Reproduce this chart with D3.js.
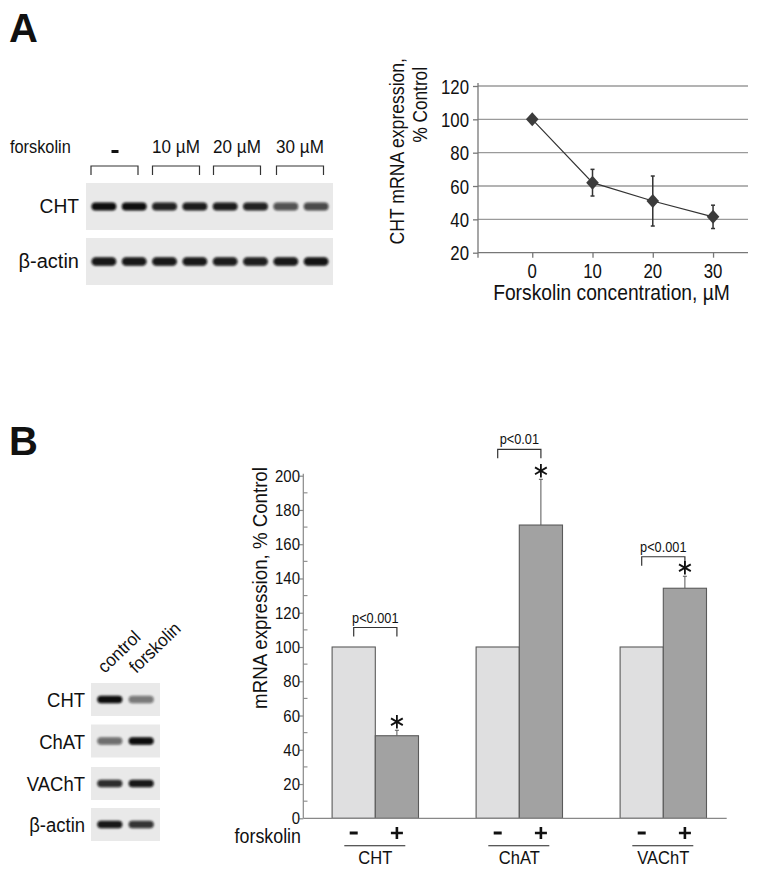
<!DOCTYPE html>
<html><head><meta charset="utf-8">
<script src="https://cdn.jsdelivr.net/npm/d3@7"></script>
<style>body{margin:0;background:#fff}svg text{font-family:'Liberation Sans',Arial,sans-serif;fill:#111}</style>
</head><body>
<svg id="fig" width="762" height="878"></svg>
<script>
// ---------- data ----------
const doseConc = [0, 10, 20, 30];
const doseMean = [100, 62, 51, 41.5];
const doseErr = [0, 8, 15, 7];
const doseYTicks = [20, 40, 60, 80, 100, 120];
const gelALanes = ["-", "10 µM", "20 µM", "30 µM"];
const gelAChtBands = [1, 1, 0.9, 0.93, 0.93, 0.9, 0.68, 0.72];
const gelAActinBands = [0.95, 0.95, 0.95, 0.95, 0.93, 0.92, 0.95, 0.97];

const genes = ["CHT", "ChAT", "VAChT"];
const conditions = ["-", "+"];
const controlVals = [100, 100, 100];
const forskolinVals = [48.2, 171.2, 134.3];
const forskolinErr = [3.2, 26.7, 7];
const pLabels = ["p<0.001", "p<0.01", "p<0.001"];
const barYTicks = [0, 20, 40, 60, 80, 100, 120, 140, 160, 180, 200];
const gelBRows = ["CHT", "ChAT", "VAChT", "β-actin"];
const gelBBands = [[1, 0.5], [0.55, 1], [0.85, 0.95], [0.95, 0.82]];
const gelBCols = ["control", "forskolin"];

const svg = d3.select("#fig");
const defs = svg.append("defs");
defs.append("filter").attr("id", "blur").attr("x", "-20%").attr("y", "-60%").attr("width", "140%").attr("height", "220%")
  .append("feGaussianBlur").attr("stdDeviation", 1);

// text helper: horizontal scale sx gives the condensed face of the original
function ntext(g, x, y, str, size, sx, opts = {}) {
  const rot = opts.rot || 0;
  return g.append("text")
    .attr("transform", `translate(${x},${y}) rotate(${rot}) scale(${sx},1)`)
    .attr("text-anchor", opts.anchor || "start")
    .attr("font-size", size)
    .style("font-size", size + "px").text(str);
}

// panel letters
svg.append("text").attr("x", 9).attr("y", 42).style("font-weight", "bold").style("font-size", "40px").text("A");
svg.append("text").attr("x", 9).attr("y", 455).style("font-weight", "bold").style("font-size", "40px").text("B");

// ---------- Panel A gel ----------
const gA = svg.append("g");
ntext(gA, 10, 153, "forskolin", 19, 0.86);
const laneX = d3.scaleBand().domain(d3.range(8)).range([86, 334]).padding(0.18);
const groupCenters = [114.5, 176, 237, 300];
gelALanes.forEach((t, i) => {
  const c = groupCenters[i];
  if (t === "-") {
    gA.append("rect").attr("x", c - 3).attr("y", 150).attr("width", 7).attr("height", 3).attr("fill", "#111");
  } else {
    ntext(gA, c, 153, t, 18, 0.95, { anchor: "middle" });
  }
  gA.append("path").attr("d", `M${c - 23.5},175V166H${c + 23.5}V175`).attr("fill", "none").attr("stroke", "#333").attr("stroke-width", 1.2);
});
function gelStrip(g, x, y, w, h, bands, bx, bw, bh) {
  g.append("rect").attr("x", x).attr("y", y).attr("width", w).attr("height", h).attr("fill", "#e9e9e9");
  bands.forEach((v, i) => {
    g.append("rect").attr("x", bx(i)).attr("y", y + h / 2 - bh / 2).attr("width", bw).attr("height", bh)
      .attr("rx", bh / 2).attr("fill", "#080808").attr("opacity", v).attr("filter", "url(#blur)");
  });
}
gelStrip(gA, 86, 183, 247, 47, gelAChtBands, i => laneX(i), laneX.bandwidth(), 8);
gelStrip(gA, 86, 238, 247, 47, gelAActinBands, i => laneX(i), laneX.bandwidth(), 8.5);
ntext(gA, 79, 213, "CHT", 20, 0.96, { anchor: "end" });
ntext(gA, 79, 268, "β-actin", 20, 1.0, { anchor: "end" });

// ---------- Panel A line chart ----------
const xA = d3.scaleLinear().domain([-9, 35.8]).range([478, 748]);
const yA = d3.scaleLinear().domain([20, 120]).range([252.7, 86]);
const cA = svg.append("g");
cA.selectAll("line.grid").data(doseYTicks).join("line").attr("class", "grid")
  .attr("x1", xA(-9)).attr("x2", xA(35.8)).attr("y1", d => yA(d)).attr("y2", d => yA(d))
  .attr("stroke", d => d === 20 ? "#777" : "#9a9a9a").attr("stroke-width", 1.3);
cA.append("g").attr("transform", `translate(${xA(-9)},0)`)
  .call(d3.axisLeft(yA).tickValues(doseYTicks).tickSize(5).tickFormat(""))
  .call(g => { g.select(".domain").attr("stroke", "#777").attr("stroke-width", 1.3).attr("d", `M0,${yA(120) - 3}V${yA(20) + 5}`);
    g.selectAll(".tick line").attr("stroke", "#777").attr("stroke-width", 1.3); });
cA.append("g").attr("transform", `translate(0,${yA(20)})`)
  .call(d3.axisBottom(xA).tickValues(doseConc).tickSize(5).tickFormat(""))
  .call(g => { g.select(".domain").remove();
    g.selectAll(".tick line").attr("stroke", "#777").attr("stroke-width", 1.3); });
doseYTicks.forEach(t => ntext(cA, 469, yA(t) + 7.5, String(t), 21, 0.8, { anchor: "end" }));
doseConc.forEach(t => ntext(cA, xA(t), 278, String(t), 21, 0.8, { anchor: "middle" }));
ntext(cA, 611.5, 300, "Forskolin concentration, µM", 22, 0.875, { anchor: "middle" });
ntext(cA, 404, 58, "CHT mRNA expression,", 20, 0.88, { anchor: "end", rot: -90 });
ntext(cA, 427, 67, "% Control", 20, 0.86, { anchor: "end", rot: -90 });
const doseData = doseConc.map((c, i) => ({ c, m: doseMean[i], e: doseErr[i] }));
cA.append("path").datum(doseData).attr("fill", "none").attr("stroke", "#333").attr("stroke-width", 1.2)
  .attr("d", d3.line().x(d => xA(d.c)).y(d => yA(d.m)));
const eb = cA.selectAll("g.eb").data(doseData.filter(d => d.e > 0)).join("g");
eb.append("line").attr("x1", d => xA(d.c)).attr("x2", d => xA(d.c)).attr("y1", d => yA(d.m - d.e)).attr("y2", d => yA(d.m + d.e))
  .attr("stroke", "#333").attr("stroke-width", 1.5);
[-1, 1].forEach(s => eb.append("line").attr("x1", d => xA(d.c) - 2).attr("x2", d => xA(d.c) + 2)
  .attr("y1", d => yA(d.m + s * d.e)).attr("y2", d => yA(d.m + s * d.e)).attr("stroke", "#333").attr("stroke-width", 1.5));
cA.selectAll("path.dia").data(doseData).join("path").attr("class", "dia")
  .attr("transform", d => `translate(${xA(d.c)},${yA(d.m)})`)
  .attr("d", "M0,-7L6.3,0L0,7L-6.3,0Z").attr("fill", "#3c3c3c");

// ---------- Panel B gel ----------
const gB = svg.append("g");
const rowY = [683, 724.5, 767, 808];
const colX = d3.scaleBand().domain(gelBCols).range([91, 160]).padding(0.2);
gelBRows.forEach((r, i) => {
  gelStrip(gB, 91, rowY[i], 69, 33, gelBBands[i], j => colX(gelBCols[j]), colX.bandwidth(), 7.5);
  ntext(gB, 85, rowY[i] + 24, r, 21, 0.88, { anchor: "end" });
});
gelBCols.forEach((c, j) => {
  ntext(gB, colX(c) + colX.bandwidth() / 2 - 5, 674, c, 18, 0.95, { rot: -44 });
});

// ---------- Panel B bar chart ----------
const yB = d3.scaleLinear().domain([0, 200]).range([818.3, 475.7]);
const x0 = d3.scaleBand().domain(genes).range([303.3, 735.3]).paddingInner(0.4).paddingOuter(0.2);
const x1 = d3.scaleBand().domain(conditions).range([0, x0.bandwidth()]);
const cB = svg.append("g");
const barData = genes.flatMap((g, i) => [
  { g, c: "-", v: controlVals[i], e: 0 },
  { g, c: "+", v: forskolinVals[i], e: forskolinErr[i] }]);
cB.selectAll("g.be").data(barData.filter(d => d.e > 0)).join("g").each(function (d) {
  const cx = x0(d.g) + x1(d.c) + x1.bandwidth() / 2;
  d3.select(this).append("line").attr("x1", cx).attr("x2", cx).attr("y1", yB(d.v)).attr("y2", yB(d.v + d.e)).attr("stroke", "#555").attr("stroke-width", 1);
  d3.select(this).append("line").attr("x1", cx - 2).attr("x2", cx + 2).attr("y1", yB(d.v + d.e)).attr("y2", yB(d.v + d.e)).attr("stroke", "#555").attr("stroke-width", 1);
});
cB.selectAll("rect.bar").data(barData).join("rect").attr("class", "bar")
  .attr("x", d => x0(d.g) + x1(d.c)).attr("width", x1.bandwidth())
  .attr("y", d => yB(d.v)).attr("height", d => yB(0) - yB(d.v))
  .attr("fill", d => d.c === "-" ? "#dfdfe0" : "#a2a2a2").attr("stroke", "#5a5a5a").attr("stroke-width", 1.1);
cB.append("g").attr("transform", `translate(303.3,0)`)
  .call(d3.axisLeft(yB).tickValues(barYTicks).tickSize(4).tickFormat(""))
  .call(g => { g.select(".domain").attr("stroke", "#888").attr("stroke-width", 1.2).attr("d", `M0,${yB(200) - 2}V${yB(0)}`);
    g.selectAll(".tick line").attr("stroke", "#888").attr("stroke-width", 1.2); });
barYTicks.forEach(t => ntext(cB, 300, yB(t) + 6, String(t), 17, 0.88, { anchor: "end" }));
cB.selectAll("line.minor").data(d3.range(10, 200, 20)).join("line").attr("class", "minor")
  .attr("x1", 303.3).attr("x2", 307.5).attr("y1", d => yB(d)).attr("y2", d => yB(d)).attr("stroke", "#888").attr("stroke-width", 1.1);
cB.append("line").attr("x1", 303.3).attr("x2", 726.7).attr("y1", yB(0)).attr("y2", yB(0)).attr("stroke", "#888").attr("stroke-width", 1.2);
ntext(cB, 267, 588, "mRNA expression, % Control", 21, 0.89, { anchor: "middle", rot: -90 });
genes.forEach((g, i) => {
  const cm = x0(g) + x1("-") + x1.bandwidth() / 2;
  const cp = x0(g) + x1("+") + x1.bandwidth() / 2;
  const top = forskolinVals[i] + forskolinErr[i];
  const bracketY = i === 1 ? 449.3 : Math.min(yB(100), yB(top)) - 19.5;
  cB.append("path").attr("d", `M${cm},${bracketY + 9}V${bracketY}H${cp}V${bracketY + 9}`)
    .attr("fill", "none").attr("stroke", "#333").attr("stroke-width", 1.2);
  ntext(cB, (cm + cp) / 2, bracketY - 5, pLabels[i], 15, 0.85, { anchor: "middle" });
  const ay = yB(top) - 8.5;
  const r = 6.8;
  const ast = cB.append("g").attr("transform", `translate(${cp},${ay})`);
  [90, 30, 150].forEach(a => {
    const rad = a * Math.PI / 180;
    ast.append("line").attr("x1", -r * Math.cos(rad)).attr("y1", -r * Math.sin(rad)).attr("x2", r * Math.cos(rad)).attr("y2", r * Math.sin(rad))
      .attr("stroke", "#111").attr("stroke-width", 1.8);
  });
});
ntext(cB, 301, 842.5, "forskolin", 21, 0.85, { anchor: "end" });
genes.forEach(g => {
  conditions.forEach(c => {
    const cx = x0(g) + x1(c) + x1.bandwidth() / 2;
    if (c === "-") cB.append("rect").attr("x", cx - 4).attr("y", 831.5).attr("width", 8).attr("height", 3).attr("fill", "#111");
    else cB.append("path").attr("d", `M${cx - 6},833H${cx + 6}M${cx},827V839`).attr("stroke", "#111").attr("stroke-width", 2.6);
  });
  const gc = x0(g) + x0.bandwidth() / 2;
  cB.append("line").attr("x1", gc - 31).attr("x2", gc + 30).attr("y1", 845.7).attr("y2", 845.7).attr("stroke", "#222").attr("stroke-width", 1.1);
  ntext(cB, gc, 864, g, 19, 0.87, { anchor: "middle" });
});
</script>
</body></html>
